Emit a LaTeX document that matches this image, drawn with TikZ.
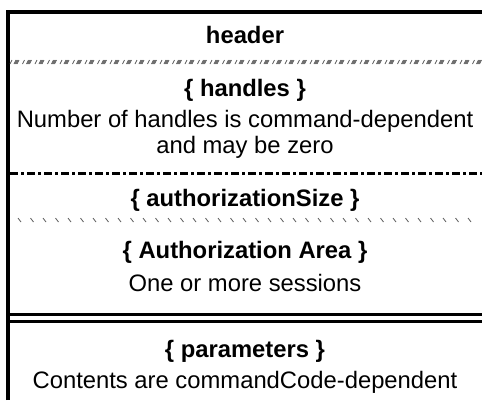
\documentclass[tikz,border=0pt]{standalone}
\usepackage{fontspec}
\setmainfont{Liberation Sans}
\usetikzlibrary{positioning}
\begin{document}
\begin{tikzpicture}[x=1pt,y=-1pt,
        titulo/.style={anchor=base,inner sep=0pt,font=\fontsize{23.8}{28}\selectfont\bfseries},
        texto/.style={anchor=base,inner sep=0pt,font=\fontsize{23.8}{28}\selectfont},
        borde/.style={line width=4pt,line join=miter},
        rayado/.style={black!65,line width=0.8pt},
        marca/.style={black!65,line width=0.8pt},
        puntoraya/.style={line width=3pt,dash pattern=on 8pt off 3pt on 3pt off 3pt},
        doble/.style={double,line width=3pt,double distance=3.5pt}]
        % Marco de la estructura
        \useasboundingbox (0,0) rectangle (482,400);
        \draw[borde] (8,400) -- (8,12) -- (482,12);
        % Textos de cada campo
        \node[titulo] (cabecera) at (245,43) {header};
        \node[titulo] (handles) at (245,96) {\{ handles \}};
        \node[texto] (numhandles) at (245,127) {Number of handles is command-dependent};
        \node[texto] (cero) at (245,153) {and may be zero};
        \node[titulo] (authsize) at (245,206) {\{ authorizationSize \}};
        \node[titulo] (autharea) at (245,258) {\{ Authorization Area \}};
        \node[texto] (sesiones) at (245,291) {One or more sessions};
        \node[titulo] (parametros) at (245,357) {\{ parameters \}};
        \node[texto] (contenido) at (245,388) {Contents are commandCode-dependent};
        % Separador rayado bajo la cabecera
        \foreach \x in {10,22.5,...,480} {
            \draw[rayado] (\x,64) -- ++(2,-4);
            \foreach \d in {4,5,6,7} {
                \draw[rayado] (\x+\d,64) -- ++(2,-4);
            }
        }
        % Separadores entre campos
        \draw[puntoraya] (10,173.5) -- (482,173.5);
        \foreach \x in {18,30.5,...,478} {
            \draw[marca] (\x,218) -- ++(3,4);
        }
        \draw[doble] (10,318) -- (482,318);
    \end{tikzpicture}
\end{document}
